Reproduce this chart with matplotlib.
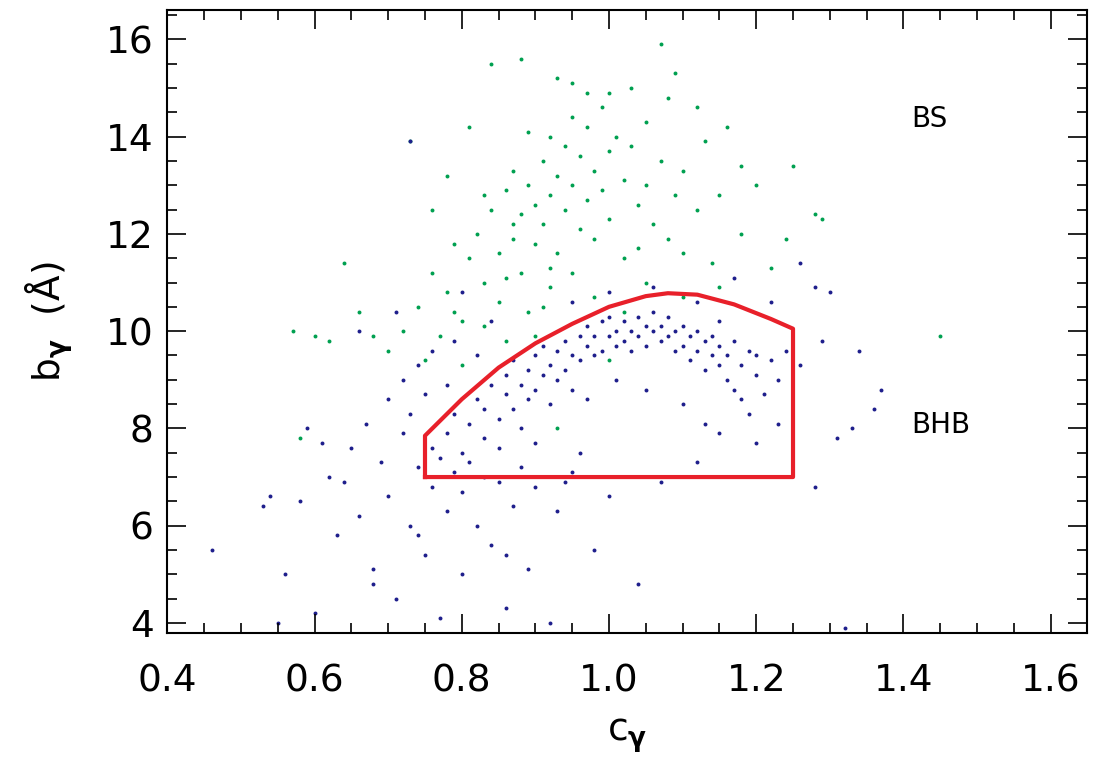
import matplotlib
matplotlib.use('Agg')
import matplotlib.pyplot as plt
from matplotlib.ticker import MultipleLocator

# BS stars (green)
bs_x = [0.72,0.74,0.76,0.78,0.79,0.80,0.81,0.82,0.83,0.84,0.85,0.85,0.86,0.87,0.87,0.88,0.88,0.89,0.90,0.90,
        0.91,0.91,0.92,0.92,0.93,0.93,0.94,0.94,0.95,0.95,0.96,0.96,0.97,0.97,0.98,0.98,0.99,0.99,1.00,1.00,
        1.01,1.02,1.02,1.03,1.04,1.05,1.05,1.06,1.07,1.08,1.08,1.09,1.10,1.10,1.12,1.13,1.14,1.15,1.16,1.18,
        1.20,1.22,1.25,1.28,1.29,0.70,0.68,0.66,0.64,0.62,0.60,0.57,0.75,0.77,0.80,0.83,0.86,0.89,0.92,0.95,
        0.98,1.02,1.05,1.10,1.15,0.84,0.88,0.93,0.97,1.03,1.07,1.09,0.73,0.78,0.81,0.76,1.45,0.58,0.93,1.00,
        0.90,0.86,0.83,0.89,0.95,1.00,1.04,1.12,1.18,1.24,0.91,0.79,0.87,0.92]
bs_y = [10.0,10.5,11.2,10.8,11.8,10.2,11.5,12.0,11.0,12.5,11.6,10.6,12.9,11.9,13.3,12.4,11.2,13.0,12.6,11.8,
        13.5,12.2,14.0,12.8,13.2,11.6,12.5,13.8,13.0,14.4,12.1,13.6,14.2,12.7,13.3,11.9,14.6,12.9,13.7,12.3,
        14.0,13.1,11.5,13.8,12.6,14.3,13.0,12.2,13.5,11.9,14.8,12.8,13.3,11.6,12.5,13.9,11.4,12.8,14.2,12.0,
        13.0,11.3,13.4,12.4,12.3,9.6,9.9,10.4,11.4,9.8,9.9,10.0,9.4,9.9,9.3,10.1,9.8,10.4,10.9,11.2,
        10.7,10.4,11.0,10.7,10.9,15.5,15.6,15.2,14.9,15.0,15.9,15.3,13.9,13.2,14.2,12.5,9.9,7.8,8.0,9.4,
        9.9,11.1,12.8,14.1,15.1,14.9,11.7,14.6,13.4,11.9,10.5,10.4,12.2,11.3]

# BHB stars (blue)
bhb_x = [0.76,0.78,0.79,0.80,0.81,0.82,0.83,0.83,0.84,0.85,0.85,0.86,0.86,0.87,0.87,0.88,0.88,0.89,0.89,0.90,
         0.90,0.91,0.91,0.92,0.92,0.93,0.93,0.94,0.94,0.95,0.95,0.96,0.96,0.97,0.97,0.98,0.98,0.99,0.99,1.00,
         1.00,1.01,1.01,1.02,1.02,1.03,1.03,1.04,1.04,1.05,1.05,1.06,1.06,1.07,1.07,1.08,1.08,1.09,1.09,1.10,
         1.10,1.11,1.11,1.12,1.12,1.13,1.13,1.14,1.14,1.15,1.15,1.16,1.16,1.17,1.17,1.18,1.18,1.19,1.19,1.20,
         1.20,1.21,1.22,1.23,1.24,1.26,1.29,1.10,1.13,1.15,1.05,0.97,1.01,
         0.55,0.56,0.58,0.60,0.62,0.63,0.64,0.65,0.66,0.67,0.68,0.69,0.70,0.70,0.71,0.72,0.72,0.73,0.73,0.74,
         0.74,0.75,0.75,0.76,0.76,0.77,0.77,0.78,0.78,0.79,0.79,0.80,0.80,0.81,0.82,0.82,0.83,0.84,0.84,0.85,
         0.86,0.87,0.88,0.89,0.90,0.92,0.93,0.95,0.98,1.04,1.07,0.53,0.54,0.46,0.59,0.61,0.71,0.73,0.66,0.80,
         1.17,1.22,1.26,1.28,1.33,1.34,1.37,1.30,1.31,1.28,1.32,1.36,0.68,0.74,0.86,0.90,0.94,0.96,1.00,1.12,
         1.20,1.23,0.95,1.00,1.06,1.12,1.15]
bhb_y = [7.6,7.9,8.3,7.5,8.1,8.6,7.8,8.4,8.9,8.2,7.6,8.7,9.1,8.4,9.4,8.9,8.0,9.2,8.6,9.5,
         8.8,9.1,9.7,8.5,9.3,9.6,9.0,9.8,9.2,9.5,8.8,9.9,9.4,9.7,10.1,9.5,9.9,10.2,9.6,9.9,
         10.3,9.7,10.0,10.2,9.8,10.0,9.6,10.3,9.9,10.1,9.7,10.0,10.4,9.8,10.1,9.9,10.3,10.0,9.6,10.1,
         9.7,9.9,9.4,10.0,9.6,9.8,9.2,9.5,9.9,9.3,9.7,9.0,9.5,9.8,8.8,9.3,8.6,9.6,8.3,9.1,
         9.5,8.7,9.4,9.0,9.6,9.3,9.8,8.5,8.1,7.9,8.8,8.6,9.0,
         4.0,5.0,6.5,4.2,7.0,5.8,6.9,7.6,6.2,8.1,5.1,7.3,8.6,6.6,4.5,7.9,9.0,6.0,8.3,7.2,
         9.3,5.4,8.7,6.8,9.6,7.4,4.1,8.9,6.3,7.1,9.8,6.7,5.0,7.3,6.0,9.5,7.0,5.6,10.2,6.9,
         4.3,6.4,7.2,5.1,6.8,4.0,6.3,7.1,5.5,4.8,6.9,6.4,6.6,5.5,8.0,7.7,10.4,13.9,10.0,10.8,
         11.1,10.6,11.4,10.9,8.0,9.6,8.8,10.8,7.8,6.8,3.9,8.4,4.8,5.8,5.4,7.7,6.9,7.5,6.6,7.3,
         7.7,8.1,10.6,10.8,10.9,10.6,10.2]

# selection box (red)
box_x = [0.75, 0.75, 0.80, 0.85, 0.90, 0.95, 1.00, 1.05, 1.08, 1.12, 1.17, 1.22, 1.25, 1.25, 0.75]
box_y = [7.0, 7.85, 8.6, 9.25, 9.75, 10.15, 10.5, 10.72, 10.78, 10.75, 10.55, 10.25, 10.05, 7.0, 7.0]

plt.rcParams['font.family'] = ['DejaVu Sans']
fig = plt.figure(figsize=(10.94, 7.83), dpi=100)
ax = fig.add_axes([0.153, 0.192, 0.841, 0.795])

ax.scatter(bs_x, bs_y, s=8, color='#00a050', linewidths=0)
ax.scatter(bhb_x, bhb_y, s=8, color='#1e1e8c', linewidths=0)
ax.plot(box_x, box_y, color='#e8202a', linewidth=3)

ax.text(1.41, 14.2, 'BS', fontsize=20)
ax.text(1.41, 7.9, 'BHB', fontsize=20)

ax.set_xlim(0.4, 1.65)
ax.set_ylim(3.8, 16.6)
ax.xaxis.set_major_locator(MultipleLocator(0.2))
ax.xaxis.set_minor_locator(MultipleLocator(0.05))
ax.yaxis.set_major_locator(MultipleLocator(2))
ax.yaxis.set_minor_locator(MultipleLocator(0.5))
ax.tick_params(which='both', direction='in', top=True, right=True, labelsize=27, width=1.2)
ax.tick_params(which='major', length=14)
ax.tick_params(which='minor', length=7)
ax.tick_params(axis='x', pad=22)
ax.tick_params(axis='y', pad=10)
for s in ax.spines.values():
    s.set_linewidth(1.5)

ax.set_xlabel(r'c$_{\mathbf{\gamma}}$', fontsize=27, labelpad=12)
ax.set_ylabel(r'b$_{\mathbf{\gamma}}$  (Å)', fontsize=27, labelpad=22)

fig.savefig('out.png', dpi=100)
